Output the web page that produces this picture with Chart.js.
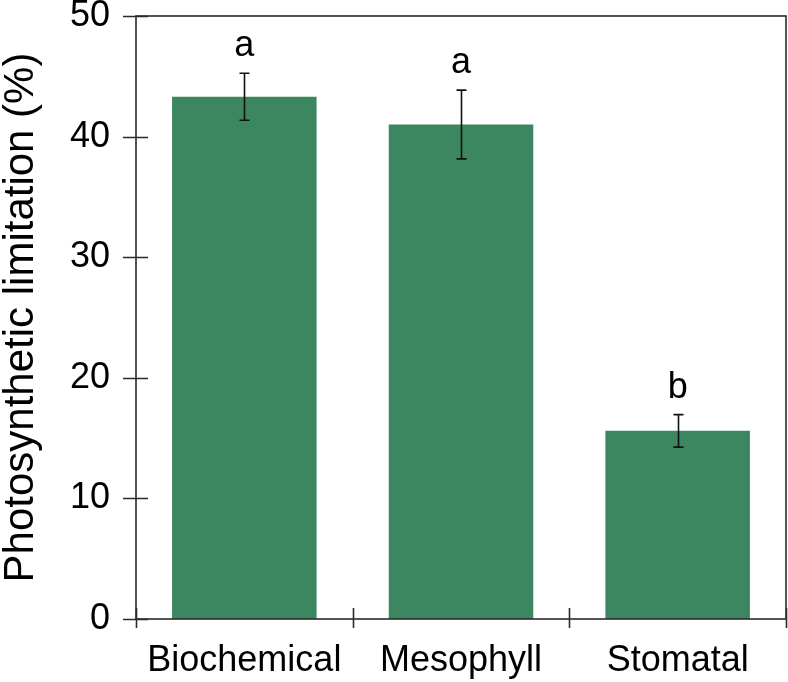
<!DOCTYPE html>
<html>
<head>
<meta charset="utf-8">
<script src="https://cdn.jsdelivr.net/npm/chart.js@4/dist/chart.umd.min.js"></script>
<style>
  html, body { margin: 0; padding: 0; background: #fff; }
  #wrap { width: 788px; height: 682px; }
</style>
</head>
<body>
<div id="wrap"><canvas id="chart" width="788" height="682"></canvas></div>
<script>
// data
const categories = ['Biochemical', 'Mesophyll', 'Stomatal'];
const limitation = [43.3, 41.0, 15.6];
const errors = [1.95, 2.85, 1.35];
const letters = ['a', 'a', 'b'];
const yTicks = [0, 10, 20, 30, 40, 50];

const FONT = 'Liberation Sans, Arial, Helvetica, sans-serif';
const AXIS_COLOR = '#2b2b2b';

// frame, crossing ticks, error bars and significance letters
const decorations = {
    id: 'decorations',
    afterDatasetsDraw(chart) {
        const { ctx, chartArea: a } = chart;
        const x = chart.scales.x;
        const y = chart.scales.y;
        ctx.save();
        ctx.strokeStyle = AXIS_COLOR;
        ctx.lineWidth = 1.6;
        ctx.strokeRect(a.left, a.top, a.right - a.left, a.bottom - a.top);

        // y ticks crossing the axis
        ctx.beginPath();
        yTicks.forEach(v => {
            const py = Math.round(y.getPixelForValue(v)) + 0.5;
            ctx.moveTo(a.left - 13, py);
            ctx.lineTo(a.left + 12, py);
        });
        // x ticks at category boundaries
        for (let i = 0; i <= categories.length; i++) {
            const px = i === 0 ? a.left : i === categories.length ? a.right
                : (x.getPixelForValue(i - 1) + x.getPixelForValue(i)) / 2;
            ctx.moveTo(Math.round(px) + 0.5, a.bottom - 11);
            ctx.lineTo(Math.round(px) + 0.5, a.bottom + 9);
        }
        ctx.stroke();

        // error bars
        ctx.strokeStyle = '#111';
        ctx.lineWidth = 1.6;
        ctx.beginPath();
        limitation.forEach((v, i) => {
            const px = Math.round(x.getPixelForValue(i)) + 0.5;
            const top = y.getPixelForValue(v + errors[i]);
            const bot = y.getPixelForValue(v - errors[i]);
            ctx.moveTo(px, top); ctx.lineTo(px, bot);
            ctx.moveTo(px - 5, top); ctx.lineTo(px + 5, top);
            ctx.moveTo(px - 5, bot); ctx.lineTo(px + 5, bot);
        });
        ctx.stroke();

        // letters above the error bars
        ctx.fillStyle = '#000';
        ctx.font = '36px ' + FONT;
        ctx.textAlign = 'center';
        ctx.textBaseline = 'alphabetic';
        letters.forEach((t, i) => {
            const px = x.getPixelForValue(i);
            const top = y.getPixelForValue(limitation[i] + errors[i]);
            ctx.fillText(t, px, top - 17);
        });
        ctx.restore();
    }
};

new Chart(document.getElementById('chart'), {
    type: 'bar',
    data: {
        labels: categories,
        datasets: [{
            data: limitation,
            backgroundColor: '#3c8760',
            borderWidth: 0,
            barPercentage: 0.667,
            categoryPercentage: 1.0
        }]
    },
    options: {
        responsive: false,
        animation: false,
        devicePixelRatio: 1,
        layout: { padding: { top: 16, right: 2, left: 0, bottom: 0 } },
        plugins: { legend: { display: false }, tooltip: { enabled: false } },
        scales: {
            x: {
                grid: { display: false, drawTicks: false },
                border: { display: false },
                ticks: { color: '#000', font: { family: FONT, size: 36 }, padding: 20 },
                afterFit(scale) {
                    scale.height = 63;
                    scale.paddingLeft = 0;
                    scale.paddingRight = 0;
                }
            },
            y: {
                min: 0,
                max: 50,
                afterBuildTicks(scale) { scale.ticks = yTicks.map(v => ({ value: v })); },
                grid: { display: false, drawTicks: false },
                border: { display: false },
                ticks: { color: '#000', font: { family: FONT, size: 36 }, padding: 26 },
                title: {
                    display: true,
                    text: 'Photosynthetic limitation (%)',
                    color: '#000',
                    font: { family: FONT, size: 42, lineHeight: 1 },
                    padding: 0
                },
                afterFit(scale) {
                    scale.width = 136;
                    scale.paddingTop = 0;
                    scale.paddingBottom = 0;
                }
            }
        }
    },
    plugins: [decorations]
});
</script>
</body>
</html>
